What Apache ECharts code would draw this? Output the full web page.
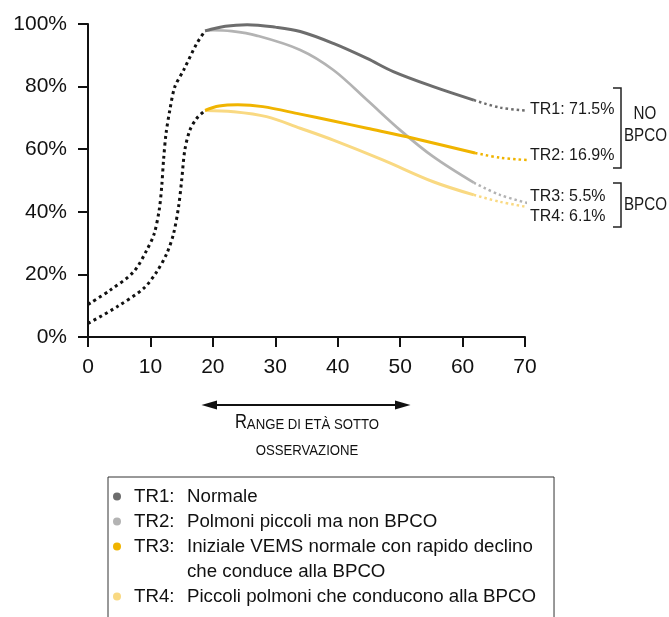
<!DOCTYPE html>
<html>
<head>
<meta charset="utf-8">
<script src="https://cdn.jsdelivr.net/npm/echarts@6/dist/echarts.min.js"></script>
<style>
html,body{margin:0;padding:0;background:#fff;}
#chart{width:669px;height:617px;}
</style>
</head>
<body>
<div id="chart"></div>
<script>
// ---- Data (age in years, FEV1 as % of peak) ----
const xTicks = [0, 10, 20, 30, 40, 50, 60, 70];
const yTicks = [0, 20, 40, 60, 80, 100];

// childhood growth (black dotted)
const ageChildA = [0, 3.5, 7.3, 9.4, 10.6, 11.4, 11.8, 12.1, 12.5, 13.1, 13.9, 15.3, 17.4, 18.75];
const fevChildA = [10.4, 14.9, 20.8, 27.7, 33, 40.5, 47.9, 56.5, 65, 72.4, 79.9, 85.2, 93.7, 97.8];
const ageChildB = [0, 4.6, 8.9, 11, 12.6, 13.7, 14.5, 15, 15.5, 16.3, 17.4, 18.75];
const fevChildB = [4.3, 9.6, 15.5, 20.8, 26.6, 33, 41.5, 50, 59.6, 66, 69.8, 72.4];

// observed trajectories (solid)
const ageTR1 = [18.75, 22, 25.5, 30, 34, 39.3, 44.7, 48.9, 55.3, 61.8];
const fevTR1 = [97.8, 99.3, 99.8, 99, 97.6, 93.8, 89, 84.8, 80, 75.7];
const ageTR2 = [18.75, 20, 23, 27, 34, 39.3, 44.7, 50, 55.3, 61.8];
const fevTR2 = [97.8, 98, 97.7, 96.3, 91.7, 85.3, 75.7, 66.1, 57.6, 49.3];
const ageTR3 = [18.75, 21, 24, 28, 34, 39.3, 44.7, 52.1, 62];
const fevTR3 = [72.4, 73.8, 74.2, 73.6, 71.2, 69, 66.7, 63.5, 58.8];
const ageTR4 = [18.75, 23.3, 28.6, 34, 39.3, 47.3, 55.3, 61.8];
const fevTR4 = [72.4, 72, 70.4, 66.7, 62.9, 56.5, 49.6, 45.4];

// projected continuation (coloured dotted)
const ageExt1 = [61.8, 66, 70.6];
const fevExt1 = [75.7, 73.3, 72.3];
const ageExt2 = [61.8, 66, 70.4];
const fevExt2 = [49.3, 45.4, 42.8];
const ageExt3 = [62, 66, 70.6];
const fevExt3 = [58.8, 57.3, 56.5];
const ageExt4 = [61.8, 66, 70.4];
const fevExt4 = [45.4, 43.2, 41.5];

// end labels (as printed)
const endLabels = ['TR1: 71.5%', 'TR3: 5.5%', 'TR2: 16.9%', 'TR4: 6.1%'];

// legend
const legendCodes = ['TR1:', 'TR2:', 'TR3:', '', 'TR4:'];
const legendTexts = ['Normale', 'Polmoni piccoli ma non BPCO',
  'Iniziale VEMS normale con rapido declino', 'che conduce alla BPCO',
  'Piccoli polmoni che conducono alla BPCO'];

const COLORS = ['#6d6d6d', '#b3b3b3', '#f0b400', '#f9d982'];
const FONT = "'Liberation Sans', Arial, sans-serif";

const zip = (a, b) => a.map((v, i) => [v, b[i]]);

const chart = echarts.init(document.getElementById('chart'), null, {renderer: 'canvas'});

const seriesNames = ['TR1', 'TR2', 'TR3', 'TR3b', 'TR4'];
const legendMap = {};
seriesNames.forEach((n, i) => {
  legendMap[n] = '{s| }{a|' + (legendCodes[i] || ' ') + '}{b|' + legendTexts[i] + '}';
});

function solid(name, ages, vals, color, width, z) {
  return {
    name, type: 'line', data: zip(ages, vals), symbol: 'none', smooth: 0.35,
    lineStyle: {color, width}, itemStyle: {color}, z
  };
}
function ext(ages, vals, color, label, offset, z) {
  return {
    name: label, type: 'line', data: zip(ages, vals), symbol: 'none', smooth: 0.35,
    clip: false, lineStyle: {color, width: 2.5, type: [2.5, 3]}, itemStyle: {color}, z,
    endLabel: {show: true, formatter: label, distance: 3, offset, fontSize: 16,
      fontFamily: FONT, color: '#1a1a1a', align: 'left', verticalAlign: 'middle'}
  };
}

const option = {
  animation: false,
  backgroundColor: '#fff',
  grid: {left: 88, right: 144, top: 24, bottom: 280, outerBoundsMode: 'none', containLabel: false},
  xAxis: {
    type: 'value', min: 0, max: 70, interval: 10,
    axisLine: {show: true, lineStyle: {color: '#111', width: 2}},
    axisTick: {show: true, length: 10, lineStyle: {color: '#111', width: 2}},
    splitLine: {show: false},
    axisLabel: {margin: 20, fontSize: 21, fontFamily: FONT, color: '#111',
      formatter: v => xTicks.includes(v) ? String(v) : ''}
  },
  yAxis: {
    type: 'value', min: 0, max: 100, interval: 20,
    axisLine: {show: true, lineStyle: {color: '#111', width: 2}},
    axisTick: {show: true, length: 10, lineStyle: {color: '#111', width: 2}},
    splitLine: {show: false},
    axisLabel: {margin: 21, fontSize: 21, fontFamily: FONT, color: '#111',
      formatter: v => yTicks.includes(v) ? v + '%' : ''}
  },
  legend: {
    type: 'plain', orient: 'vertical', left: 108, top: 477, height: 300, width: 500,
    padding: [7, 18, 40, 5],
    borderColor: '#333', borderWidth: 1,
    itemWidth: 8, itemHeight: 8, itemGap: 0, icon: 'circle',
    selectedMode: false,
    data: [
      {name: 'TR1', itemStyle: {color: COLORS[0]}},
      {name: 'TR2', itemStyle: {color: COLORS[1]}},
      {name: 'TR3', itemStyle: {color: COLORS[2]}},
      {name: 'TR3b', icon: 'none'},
      {name: 'TR4', itemStyle: {color: COLORS[3]}}
    ],
    formatter: name => legendMap[name],
    textStyle: {
      fontFamily: FONT, fontSize: 18.7, color: '#111', lineHeight: 25,
      rich: {
        s: {width: 8, fontSize: 18.7, fontFamily: FONT, lineHeight: 25},
        a: {width: 53, fontSize: 18.7, fontFamily: FONT, color: '#111', lineHeight: 25},
        b: {fontSize: 18.7, fontFamily: FONT, color: '#111', lineHeight: 25}
      }
    }
  },
  graphic: [
    // bracket NO BPCO
    {type: 'polyline', shape: {points: [[613, 88], [621, 88], [621, 168], [613, 168]]},
      style: {stroke: '#222', lineWidth: 1.5, fill: null}},
    {type: 'text', x: 645, y: 114, scaleX: 0.82, style: {text: 'NO', x: 0, y: 0, align: 'center', verticalAlign: 'middle',
      fontSize: 18.5, fontFamily: FONT, fill: '#1a1a1a'}},
    {type: 'text', x: 624, y: 136, scaleX: 0.82, style: {text: 'BPCO', x: 0, y: 0, align: 'left', verticalAlign: 'middle',
      fontSize: 18.5, fontFamily: FONT, fill: '#1a1a1a'}},
    // bracket BPCO
    {type: 'polyline', shape: {points: [[613, 183], [621, 183], [621, 227], [613, 227]]},
      style: {stroke: '#222', lineWidth: 1.5, fill: null}},
    {type: 'text', x: 624, y: 205, scaleX: 0.82, style: {text: 'BPCO', x: 0, y: 0, align: 'left', verticalAlign: 'middle',
      fontSize: 18.5, fontFamily: FONT, fill: '#1a1a1a'}},
    // double arrow
    {type: 'line', shape: {x1: 212, y1: 405, x2: 400, y2: 405}, style: {stroke: '#111', lineWidth: 2}},
    {type: 'polygon', shape: {points: [[201.5, 405], [217, 400.5], [217, 409.5]]}, style: {fill: '#111'}},
    {type: 'polygon', shape: {points: [[410.5, 405], [395, 400.5], [395, 409.5]]}, style: {fill: '#111'}},
    {type: 'text', x: 307, y: 407, scaleX: 0.85, style: {
      text: '{r|R}{s|ANGE DI ETÀ SOTTO}\n{s|OSSERVAZIONE}',
      x: 0, y: 0, align: 'center', verticalAlign: 'top', fill: '#111',
      rich: {
        r: {fontSize: 19.5, fontFamily: FONT, fill: '#111', lineHeight: 26, verticalAlign: 'bottom'},
        s: {fontSize: 15.5, fontFamily: FONT, fill: '#111', lineHeight: 26, verticalAlign: 'bottom'}
      }
    }}
  ],
  series: [
    {name: 'childA', type: 'line', data: zip(ageChildA, fevChildA), symbol: 'none', smooth: 0.3,
      lineStyle: {color: '#111', width: 3, type: [3, 3.5]}, z: 3},
    {name: 'childB', type: 'line', data: zip(ageChildB, fevChildB), symbol: 'none', smooth: 0.3,
      lineStyle: {color: '#111', width: 3, type: [3, 3.5]}, z: 3},
    ext(ageExt4, fevExt4, COLORS[3], endLabels[3], [0, 10], 2),
    ext(ageExt2, fevExt2, COLORS[1], endLabels[1], [0, -6], 2),
    ext(ageExt3, fevExt3, COLORS[2], endLabels[2], [0, -4], 2),
    ext(ageExt1, fevExt1, COLORS[0], endLabels[0], [0, -1], 2),
    solid('TR4', ageTR4, fevTR4, COLORS[3], 3, 4),
    solid('TR2', ageTR2, fevTR2, COLORS[1], 2.7, 5),
    solid('TR3', ageTR3, fevTR3, COLORS[2], 3, 6),
    solid('TR1', ageTR1, fevTR1, COLORS[0], 3, 7),
    {name: 'TR3b', type: 'line', data: [], symbol: 'none'}
  ]
};
chart.setOption(option);
</script>
</body>
</html>
